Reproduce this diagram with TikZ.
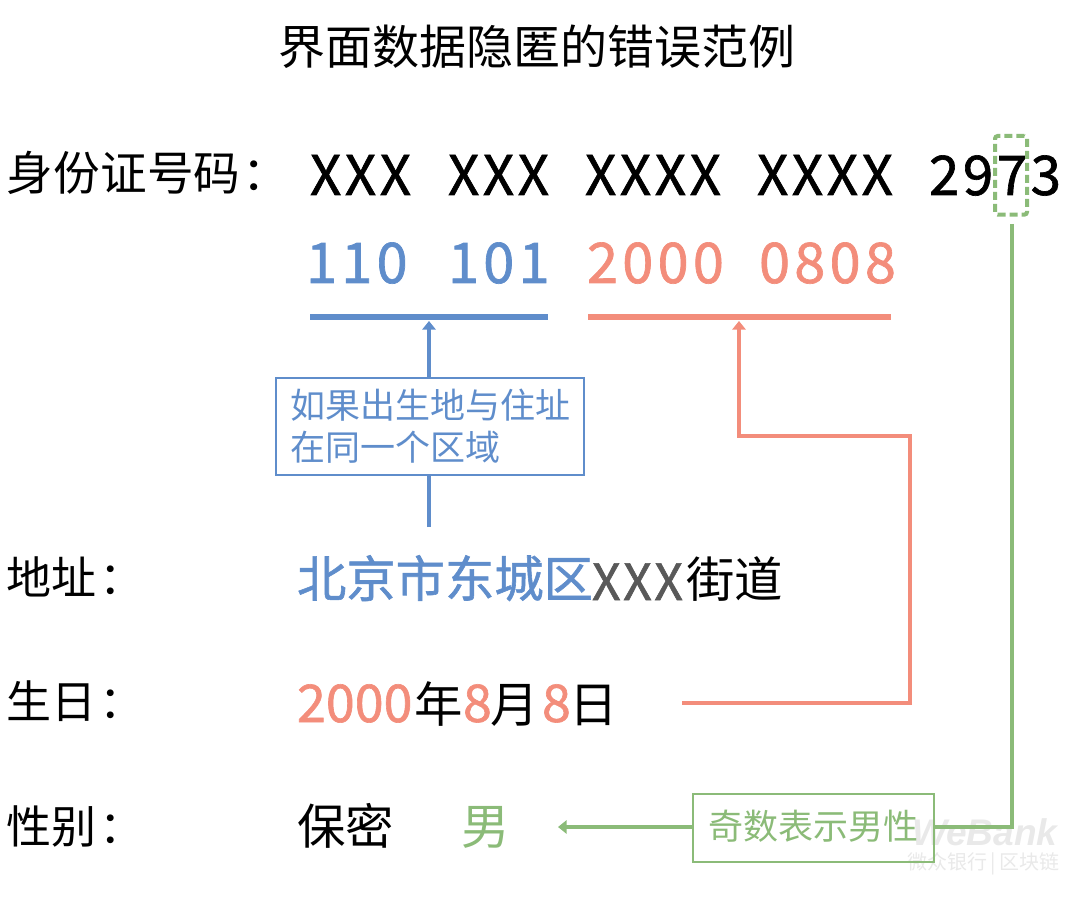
\documentclass[tikz,border=0pt]{standalone}
\usepackage{fontspec}
\setmainfont{Noto Sans CJK SC}
\newfontfamily\medfont{Noto Sans CJK SC}[FakeBold=1.2]
\newfontfamily\wide[LetterSpace=6.5,FakeBold=1.2]{Noto Sans CJK SC}
\newfontfamily\greywide[LetterSpace=5,FakeBold=1.2]{Noto Sans CJK SC}
\newfontfamily\numwide[LetterSpace=7.5,FakeBold=1.2]{Noto Sans CJK SC}
\newfontfamily\wmfont{Liberation Sans}
\definecolor{cblue}{HTML}{5F8DCB}
\definecolor{cred}{HTML}{F38D7B}
\definecolor{cgreen}{HTML}{8BBB78}
\definecolor{cgrey}{HTML}{595959}
\definecolor{wm}{HTML}{E9E9E9}
\usetikzlibrary{arrows.meta,positioning}
\tikzset{
  txt/.style={inner sep=0pt,outer sep=0pt,anchor=base west,text=black},
  lab/.style={txt,font=\fontsize{33.75pt}{40pt}\selectfont},
  idtext/.style={txt,font=\fontsize{41pt}{44pt}\selectfont\wide},
  bluenum/.style={txt,text=cblue,font=\fontsize{42pt}{44pt}\selectfont\numwide},
  rednum/.style={txt,text=cred,font=\fontsize{42pt}{44pt}\selectfont\numwide},
  val/.style={txt,font=\fontsize{36.3pt}{40pt}\selectfont},
  digit/.style={txt,text=cred,font=\fontsize{39pt}{40pt}\selectfont\medfont},
  bar/.style={line width=5.2pt},
  link/.style={line width=3pt},
  tip/.style={-{Triangle[length=6.5pt,width=10pt]}},
  callout/.style={draw,line width=1.2pt,minimum height=72.75pt,inner sep=0pt,outer sep=0pt},
}
\begin{document}
\begin{tikzpicture}[x=0.75pt,y=-0.75pt]
\useasboundingbox (0,0) rectangle (1080,898);
% watermark
\node[txt,text=wm,font=\fontsize{27.8pt}{32pt}\selectfont\wmfont\bfseries\itshape] (wmark) at (912,845) {WeBank};
\node[txt,text=wm,font=\fontsize{15pt}{16pt}\selectfont] (wmarkb) at (907,869) {微众银行\kern2.6pt|\kern2.6pt区块链};
% title
\node[txt,font=\fontsize{35.25pt}{40pt}\selectfont] (title) at (278,65) {界面数据隐匿的错误范例};
% labels
\node[lab,font=\fontsize{35pt}{40pt}\selectfont] (lid) at (7,191) {身份证号码\kern2pt：};
\node[lab] (laddr) at (7,594) {地址\kern2pt：};
\node[lab] (lbirth) at (7,718) {生日\kern2pt：};
\node[lab] (lsex) at (7,843) {性别\kern2pt：};
% id number
\node[idtext] (x1) at (310,195) {XXX};
\node[idtext] (x2) at (448,195) {XXX};
\node[idtext] (x3) at (585,195) {XXXX};
\node[idtext] (x4) at (757,195) {XXXX};
\node[idtext] (x5) at (929,195) {2973};
% decoded numbers
\node[bluenum] (b1) at (306,283) {110};
\node[bluenum] (b2) at (448,283) {101};
\node[rednum] (r1) at (587,283) {2000};
\node[rednum] (r2) at (759,283) {0808};
% bars
\coordinate (bl) at (310,317); \coordinate (br) at (548,317);
\coordinate (rl) at (588,317); \coordinate (rr) at (891,317);
\draw[bar,cblue] (bl) -- (br);
\draw[bar,cred] (rl) -- (rr);
% address
\node[val,text=cblue,font=\fontsize{37pt}{40pt}\selectfont\medfont] (a1) at (297,597) {北京市东城区};
\node[txt,text=cgrey,font=\fontsize{37.5pt}{40pt}\selectfont\greywide] (a2) at (592,600) {XXX};
\node[val] (a3) at (686,597) {街道};
% birthday
\node[digit] (d1) at (297,722) {2000};
\node[val] (d2) at (414,722) {年};
\node[digit] (d3) at (463,722) {8};
\node[val] (d4) at (490,722) {月};
\node[digit] (d5) at (542,722) {8};
\node[val] (d6) at (569,722) {日};
% sex
\node[val] (s1) at (297,844) {保密};
\node[val,text=cgreen] (s2) at (461,844) {男};
% callouts
\node[callout,draw=cblue,anchor=north west,minimum width=231pt] (cb) at (276,378) {};
\node[txt,text=cblue,font=\fontsize{26.25pt}{30pt}\selectfont] (cb1) at (290,418) {如果出生地与住址};
\node[txt,text=cblue,font=\fontsize{26.25pt}{30pt}\selectfont] (cb2) at (290,460) {在同一个区域};
\node[callout,draw=cgreen,anchor=north west,minimum width=180.75pt,minimum height=51pt] (cg) at (693,794) {};
\node[txt,text=cgreen,font=\fontsize{26.25pt}{30pt}\selectfont] (cg1) at (708,839) {奇数表示男性};
\node[draw=cgreen,dash pattern=on 6pt off 3pt,line width=3pt,rounded corners=2pt,minimum width=24pt,minimum height=59pt,inner sep=0pt,anchor=north west] (dbox) at (993,134) {};
% connectors
\coordinate (blue0) at (429,527);
\coordinate (blueA) at (429,321);
\draw[link,cblue] (blue0) -- (cb.south -| blue0);
\draw[link,cblue,tip] (cb.north -| blue0) -- (blueA);
\coordinate (red0) at (682,703);
\coordinate (redA) at (910,703);
\coordinate (redB) at (910,436);
\coordinate (redC) at (739,436);
\coordinate (redD) at (739,321);
\draw[link,cred,tip] (red0) -- (redA) -- (redB) -- (redC) -- (redD);
\coordinate (gr0) at (1012,224);
\coordinate (grA) at (1012,827);
\coordinate (grT) at (558,827);
\draw[link,cgreen] (gr0) -- (grA) -- (cg.east |- grA);
\draw[link,cgreen,tip] (cg.west |- grA) -- (grT);
\end{tikzpicture}
\end{document}
